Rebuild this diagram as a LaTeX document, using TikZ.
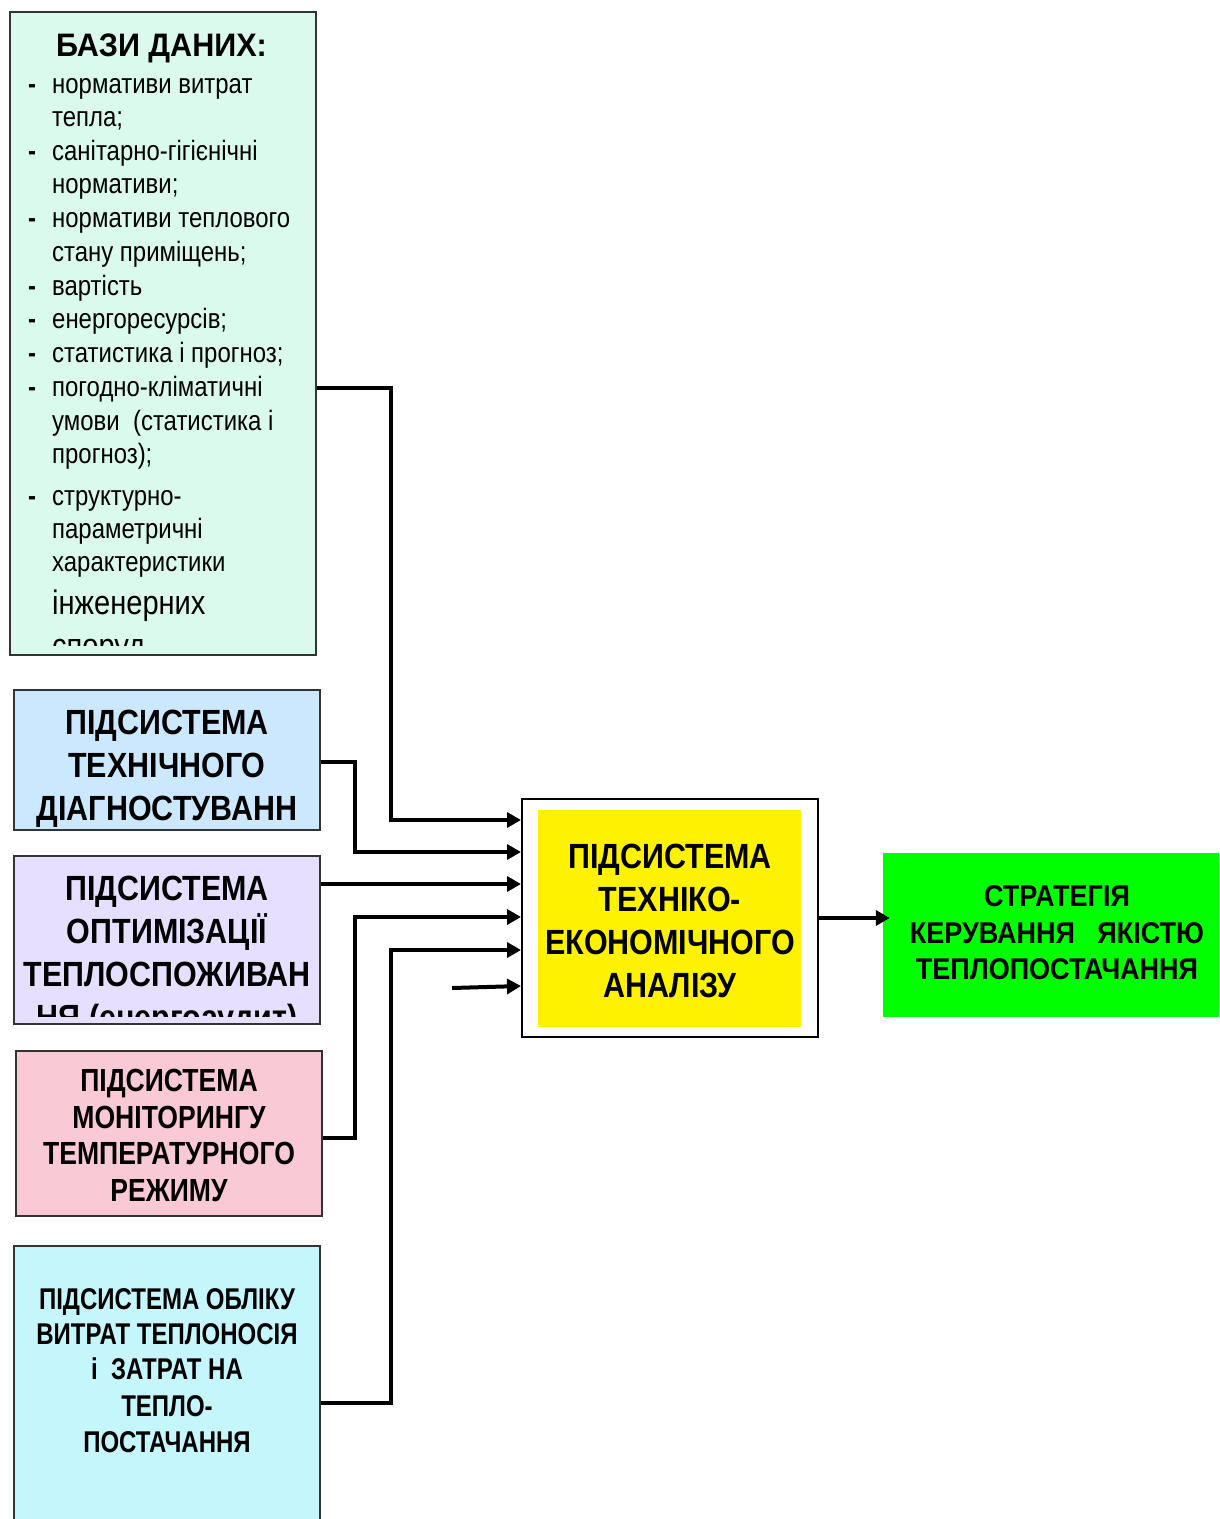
\documentclass[tikz,border=0pt]{standalone}
\usepackage{fontspec}
\setmainfont{Liberation Sans}
\newfontfamily\listfont{Liberation Sans}[FakeStretch=0.855]
\newfontfamily\titlefont{Liberation Sans}[FakeStretch=0.94]
\newfontfamily\fontA{Liberation Sans}[FakeStretch=0.87]
\newfontfamily\fontM{Liberation Sans}[FakeStretch=0.83]
\newfontfamily\fontG{Liberation Sans}[FakeStretch=0.90]
\newfontfamily\fontC{Liberation Sans}[FakeStretch=0.80]
\usetikzlibrary{arrows.meta}

\definecolor{dbfill}{HTML}{D9FAEC}
\definecolor{diagfill}{HTML}{CCE8FE}
\definecolor{optfill}{HTML}{E6DFFF}
\definecolor{monfill}{HTML}{F9CAD6}
\definecolor{accfill}{HTML}{C4F6FB}
\definecolor{edge}{HTML}{333333}

\tikzset{
  panel/.style={draw=edge, line width=2pt, rectangle, inner sep=0pt},
  line/.style={anchor=base, inner sep=0pt},
  capsA/.style={line, font=\fontA\bfseries\fontsize{35}{43}\selectfont},
  capsM/.style={line, font=\fontM\bfseries\fontsize{32}{36}\selectfont},
  capsG/.style={line, font=\fontG\bfseries\fontsize{30}{36}\selectfont},
  capsC/.style={line, font=\fontC\bfseries\fontsize{30}{36}\selectfont},
  item/.style={anchor=base west, inner sep=0pt, font=\listfont\fontsize{28}{33}\selectfont},
  bigitem/.style={anchor=base west, inner sep=0pt, font=\listfont\fontsize{34}{40}\selectfont},
  bullet/.style={anchor=base west, inner sep=0pt, font=\listfont\bfseries\fontsize{28}{33}\selectfont},
  conn/.style={line width=4pt, line join=miter, -{Triangle[length=14pt,width=15pt]}},
}

\begin{document}
\begin{tikzpicture}[x=1pt, y=-1pt]
\useasboundingbox (0,0) rectangle (1219,1519);

% data bases
\node[panel, fill=dbfill, minimum width=306pt, minimum height=643pt] (db) at (163,333.5) {};
\begin{scope}
  \clip (11,13) rectangle (315,645);
  \node[line, font=\titlefont\bfseries\fontsize{32.5}{40}\selectfont] (dbtitle) at (161.5,56.7) {БАЗИ ДАНИХ:};
  \foreach \y [count=\k] in {93,160,227,295,328,362,396,505}
    \node[bullet] (dash\k) at (28,\y) {-};
  \foreach \y/\t [count=\k] in {93/нормативи витрат, 126/тепла;, 160/санітарно-гігієнічні,
      193/нормативи;, 227/нормативи теплового, 261/стану приміщень;, 295/вартість,
      328/енергоресурсів;, 362/статистика і прогноз;, 396/погодно-кліматичні,
      430/умови\ \ (статистика і, 463/прогноз);, 505/структурно-, 538/параметричні,
      571/характеристики}
    \node[item] (line\k) at (52,\y) {\t};
  \node[bigitem] (line16) at (52,614) {інженерних};
  \node[bigitem] (line17) at (52,657) {споруд};
\end{scope}

% technical diagnostics
\node[panel, fill=diagfill, minimum width=306pt, minimum height=140pt] (diag) at (167,760) {};
\foreach \y/\t [count=\k] in {734.5/ПІДСИСТЕМА, 777.5/ТЕХНІЧНОГО, 820/ДІАГНОСТУВАНН}
  \node[capsA] (diag\k) at (167,\y) {\t};

% optimisation
\node[panel, fill=optfill, minimum width=306pt, minimum height=168pt] (opt) at (167,940) {};
\begin{scope}
  \clip (15,857) rectangle (319,1016);
  \foreach \y/\t [count=\k] in {900.5/ПІДСИСТЕМА, 943.5/ОПТИМІЗАЦІЇ, 986.5/ТЕПЛОСПОЖИВАН, 1029.5/НЯ (енергоаудит)}
    \node[capsA] (opt\k) at (167,\y) {\t};
\end{scope}

% temperature monitoring
\node[panel, fill=monfill, minimum width=306pt, minimum height=165pt] (mon) at (169,1133.5) {};
\foreach \y/\t [count=\k] in {1091.7/ПІДСИСТЕМА, 1128.2/МОНІТОРИНГУ, 1164.7/ТЕМПЕРАТУРНОГО, 1201.2/РЕЖИМУ}
  \node[capsM] (mon\k) at (169,\y) {\t};

% accounting
\node[panel, fill=accfill, minimum width=306pt, minimum height=284pt] (acc) at (167,1388) {};
\foreach \y/\t [count=\k] in {1309.5/ПІДСИСТЕМА ОБЛІКУ, 1344/ВИТРАТ ТЕПЛОНОСІЯ,
    1379.5/і\ \ ЗАТРАТ НА, 1416.5/ТЕПЛО-, 1452.5/ПОСТАЧАННЯ}
  \node[capsC] (acc\k) at (167,\y) {\t};

% techno-economic analysis
\node[draw=black, line width=2pt, fill=white, minimum width=296pt, minimum height=238pt, inner sep=0pt] (ctr) at (670,918) {};
\node[fill=yellow, minimum width=263pt, minimum height=217pt, inner sep=0pt] (ctrin) at (669.5,918.5) {};
\foreach \y/\t [count=\k] in {868/ПІДСИСТЕМА, 911.3/ТЕХНІКО-, 954.6/ЕКОНОМІЧНОГО, 997.9/АНАЛІЗУ}
  \node[capsA] (ctr\k) at (670,\y) {\t};

% strategy
\node[fill=green, minimum width=336pt, minimum height=164pt, inner sep=0pt] (strat) at (1051,935) {};
\foreach \y/\t [count=\k] in {906.7/СТРАТЕГІЯ, 943.2/КЕРУВАННЯ\ \ \ ЯКІСТЮ, 979.7/ТЕПЛОПОСТАЧАННЯ}
  \node[capsG] (strat\k) at (1057,\y) {\t};

% connectors
\coordinate (loose) at (452,988);
\draw[conn] ([yshift=-54.5pt]db.east) -- ++(74,0) |- ([yshift=98pt]ctr.west);
\draw[conn] ([yshift=-2pt]diag.east) -- ++(34,0) |- ([yshift=66pt]ctr.west);
\draw[conn] ([yshift=56pt]opt.east) -- ([yshift=34pt]ctr.west);
\draw[conn] ([yshift=-4.5pt]mon.east) -- ++(32,0) |- ([yshift=1pt]ctr.west);
\draw[conn] ([yshift=-15pt]acc.east) -- ++(70,0) |- ([yshift=-32pt]ctr.west);
\draw[conn] (loose) -- ([yshift=-68pt]ctr.west);
\draw[conn] (ctr.east) -- ([xshift=7pt,yshift=17pt]strat.west);
\end{tikzpicture}
\end{document}
